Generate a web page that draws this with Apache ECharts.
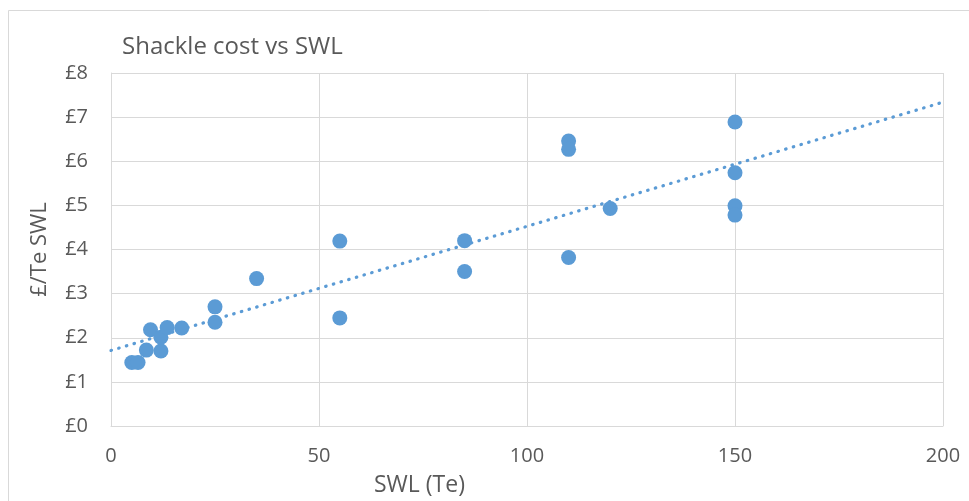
<!DOCTYPE html>
<html><head><meta charset="utf-8">
<script src="https://cdn.jsdelivr.net/npm/echarts@6/dist/echarts.min.js"></script>
<style>html,body{margin:0;padding:0;background:#fff}#c{width:969px;height:501px}</style>
</head><body><div id="c"></div>
<script>
// SWL (Te)
var swl = [5, 6.5, 8.5, 9.5, 12, 12, 13.5, 17, 25, 25, 35, 55, 55, 85, 85, 110, 110, 110, 120, 150, 150, 150, 150];
// £ per Te SWL
var costPerTe = [1.44, 1.44, 1.72, 2.18, 1.70, 2.01, 2.23, 2.22, 2.70, 2.35, 3.34, 4.19, 2.45, 4.20, 3.50, 6.46, 6.27, 3.82, 4.93, 6.89, 5.74, 4.99, 4.78];
var xTicks = [0, 50, 100, 150, 200];
var yTicks = [0, 1, 2, 3, 4, 5, 6, 7, 8];

var points = swl.map(function(x, i){ return [x, costPerTe[i]]; });
// linear least-squares trendline
var n = swl.length, sx = 0, sy = 0, sxx = 0, sxy = 0;
for (var i = 0; i < n; i++) { sx += swl[i]; sy += costPerTe[i]; sxx += swl[i]*swl[i]; sxy += swl[i]*costPerTe[i]; }
var slope = (n*sxy - sx*sy) / (n*sxx - sx*sx);
var intercept = (sy - slope*sx) / n;
var xMin = xTicks[0], xMax = xTicks[xTicks.length-1];
var trend = [[xMin, intercept + slope*xMin], [xMax, intercept + slope*xMax]];

var txt = '#595959';
var font = '"Open Sans", "Liberation Sans", sans-serif';
var chart = echarts.init(document.getElementById('c'), null, {renderer:'canvas'});
chart.setOption({
  animation: false,
  backgroundColor: '#fff',
  textStyle: {fontFamily: font},
  graphic: [{type:'rect', shape:{x:8.5, y:10.5, width:1000, height:600}, style:{fill:'none', stroke:'#D9D9D9', lineWidth:1}, silent:true, z:-10}],
  title: [
    {text:'Shackle cost vs SWL', left:117, top:30, textStyle:{color:txt, fontSize:24, fontWeight:'normal', fontFamily:font}},
    {text:'SWL (Te)', left:369, top:469, textStyle:{color:txt, fontSize:23, fontWeight:'normal', fontFamily:font}}
  ],
  grid: {left:111, right:26, top:73, bottom:75},
  xAxis: {
    type:'value', min:xMin, max:xMax, interval:50,
    axisLine:{show:true, lineStyle:{color:'#D9D9D9'}},
    axisTick:{show:false},
    axisLabel:{color:txt, fontSize:20, margin:20, fontFamily:font},
    splitLine:{show:true, lineStyle:{color:'#D9D9D9', width:1}}
  },
  yAxis: {
    type:'value', min:yTicks[0], max:yTicks[yTicks.length-1], interval:1,
    name:'£/Te SWL', nameLocation:'middle', nameGap:60,
    nameTextStyle:{color:txt, fontSize:22, fontFamily:font},
    axisLine:{show:true, lineStyle:{color:'#D9D9D9'}},
    axisTick:{show:false},
    axisLabel:{color:txt, fontSize:20, margin:23, fontFamily:font, formatter:function(v){return '£'+v;}},
    splitLine:{show:true, lineStyle:{color:'#D9D9D9', width:1}}
  },
  series: [
    {type:'scatter', data:points, symbol:'circle', symbolSize:15, itemStyle:{color:'#5B9BD5', opacity:1}, z:3},
    {type:'line', data:trend, symbol:'none', silent:true, z:2,
     lineStyle:{color:'#5B9BD5', width:3.2, type:[0.5, 7.5], cap:'round'}}
  ]
});
</script></body></html>
